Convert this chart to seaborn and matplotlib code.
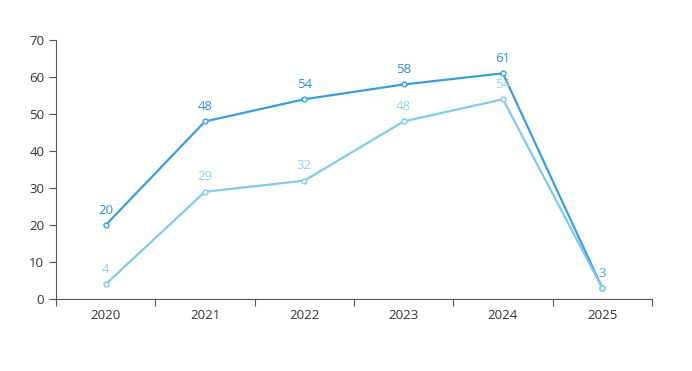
import matplotlib
matplotlib.use("Agg")
import matplotlib.pyplot as plt
import seaborn as sns
import pandas as pd
from matplotlib.ticker import FixedLocator

years = ["2020", "2021", "2022", "2023", "2024", "2025"]
series_a = [20, 48, 54, 58, 61, 3]
series_b = [4, 29, 32, 48, 54, 3]

dark = "#3b9de1"
light = "#80cbe6"

df = pd.DataFrame({
    "year": years * 2,
    "value": series_a + series_b,
    "series": ["A"] * len(years) + ["B"] * len(years),
})

sns.set_style("white")
plt.rcParams["font.family"] = ["Open Sans", "DejaVu Sans"]

fig = plt.figure(figsize=(6.92, 3.71), dpi=100)
ax = fig.add_axes([0.081, 0.194, 0.861, 0.698])

sns.lineplot(data=df, x="year", y="value", hue="series",
             palette={"A": dark, "B": light}, linewidth=1.6,
             marker="o", markersize=3.5, markerfacecolor="white",
             markeredgewidth=1, legend=False, ax=ax, sort=False)
for line, c in zip(ax.lines, [dark, light]):
    line.set_markeredgecolor(c)

# value labels
for i, (a, b) in enumerate(zip(series_a, series_b)):
    ax.annotate(str(a), (i, a), xytext=(0, 6), textcoords="offset points",
                ha="center", va="bottom", fontsize=9.5, color="#2e8fd4")
    col = "#8fd2ec" if i < len(years) - 1 else "#8fc0dc"
    ax.annotate(str(b), (i, b), xytext=(0, 6), textcoords="offset points",
                ha="center", va="bottom", fontsize=9.5, color=col)

ax.set_xlim(-0.5, len(years) - 0.5)
ax.set_ylim(0, 70)
ax.set_yticks(range(0, 71, 10))
ax.set_xticks(range(len(years)))
ax.set_xticklabels(years)
ax.xaxis.set_minor_locator(FixedLocator([i - 0.5 for i in range(len(years) + 1)]))
ax.tick_params(axis="x", which="major", length=0, pad=7, labelsize=9.5, labelcolor="#333333")
ax.tick_params(axis="x", which="minor", bottom=True, length=5, width=0.8,
               color="#555555", direction="out")
ax.tick_params(axis="y", which="major", left=True, length=5, width=0.8, color="#555555",
               labelsize=9.5, labelcolor="#333333", direction="out")
ax.set_xlabel("")
ax.set_ylabel("")
for s in ["top", "right"]:
    ax.spines[s].set_visible(False)
for s in ["left", "bottom"]:
    ax.spines[s].set_color("#555555")
    ax.spines[s].set_linewidth(0.8)

fig.savefig("out.png", dpi=100)
